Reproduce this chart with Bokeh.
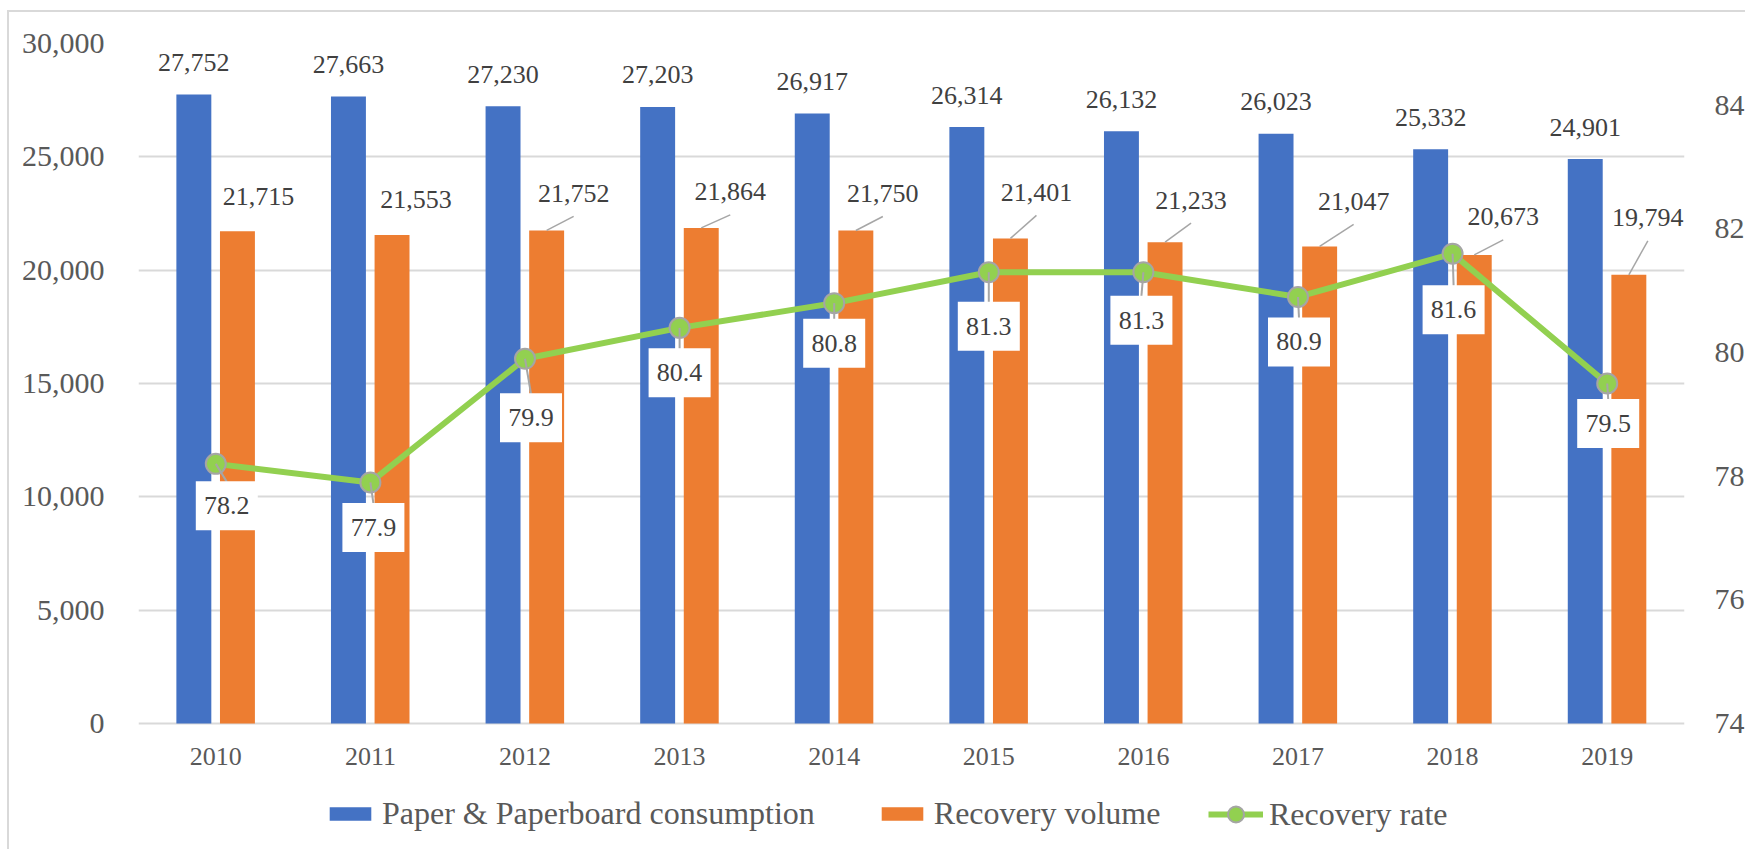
from math import atan2, hypot

from bokeh.plotting import figure
from bokeh.models import (ColumnDataSource, FactorRange, Range1d, LinearAxis, FixedTicker,
                          NumeralTickFormatter, Legend, LegendItem)
from bokeh.transform import dodge
from bokeh.core.properties import value
from bokeh.embed import file_html
from bokeh.resources import INLINE

# ---- data ----
years = ["2010", "2011", "2012", "2013", "2014", "2015", "2016", "2017", "2018", "2019"]
paper = [27752, 27663, 27230, 27203, 26917, 26314, 26132, 26023, 25332, 24901]
recovery = [21715, 21553, 21752, 21864, 21750, 21401, 21233, 21047, 20673, 19794]
rate = [78.2, 77.9, 79.9, 80.4, 80.8, 81.3, 81.3, 80.9, 81.6, 79.5]
left_ticks = [0, 5000, 10000, 15000, 20000, 25000, 30000]
right_ticks = [74, 76, 78, 80, 82, 84]
left_max, right_min, right_max = 30000, 74, 85

# ---- label placement (screen pixel offsets) ----
rec_dx = [21, 24, 27, 29, 27, 26, 26, 34, 29, 19]
rec_dy = [-35, -35, -37, -36, -37, -46, -42, -45, -38, -57]
rec_leader = [False, False, True, True, True, True, True, True, True, True]
rate_dx = [11, 3, 6, 0, 0, 0, -2, 1, 1, 1]
rate_dy = [42, 45, 59, 45, 40, 54, 48, 45, 56, 40]

# ---- layout (pixels) ----
W, H = 1738, 839          # canvas (page offset 9, 12 for the chart border)
TOP = 31                  # frame top within canvas
PLOT_H = 680              # height of the value area (0 .. 30000)
BELOW = H - TOP - PLOT_H  # space below the zero line, used by year labels + legend
CAT_PX = 154.6            # width of one year slot
RATE_PX = PLOT_H / (right_max - right_min)

FONT = "Liberation Serif"
BLUE = "#4472C4"
ORANGE = "#ED7D31"
GREEN = "#92D050"
GRID = "#D9D9D9"
TXT = "#595959"
LBL = "#404040"
LEAD = "#A6A6A6"

src = ColumnDataSource(dict(
    year=years, paper=paper, rec=recovery, rate=rate,
    zero=[0] * len(years),
    paper_lbl=[f"{v:,}" for v in paper],
    rec_lbl=[f"{v:,}" for v in recovery],
    rate_lbl=[f"{v:.1f}" for v in rate],
    rec_dx=rec_dx, rec_dy=rec_dy,
    rate_dx=rate_dx, rate_dy=rate_dy,
    box_x=[i + 0.5 + rate_dx[i] / CAT_PX for i in range(len(years))],
    box_y=[rate[i] - rate_dy[i] / RATE_PX for i in range(len(years))],
))

lead_rows = [i for i in range(len(years)) if rec_leader[i]]
rec_lead = ColumnDataSource(dict(
    year=[years[i] for i in lead_rows],
    rec=[recovery[i] for i in lead_rows],
    length=[hypot(rec_dx[i], rec_dy[i] + 23) for i in lead_rows],
    angle=[atan2(-(rec_dy[i] + 23), rec_dx[i]) for i in lead_rows],
))
rate_lead = ColumnDataSource(dict(
    year=years, rate=rate,
    length=[hypot(rate_dx[i], rate_dy[i] - 24) for i in range(len(years))],
    angle=[atan2(-(rate_dy[i] - 24), rate_dx[i]) for i in range(len(years))],
))

left_start = -left_max * BELOW / PLOT_H
right_start = right_min - (right_max - right_min) * BELOW / PLOT_H

p = figure(width=W, height=H, x_range=FactorRange(*years, range_padding=0),
           y_range=Range1d(left_start, left_max), x_axis_location=None,
           output_backend="svg", toolbar_location=None,
           min_border_left=129, min_border_right=60, min_border_top=TOP, min_border_bottom=0)
p.margin = (10, 0, 0, 7)
p.styles = {"border-top": "2px solid #D9D9D9", "border-left": "2px solid #D9D9D9"}
p.extra_y_ranges = {"rate": Range1d(right_start, right_max)}
p.outline_line_color = None
p.background_fill_color = "white"
p.border_fill_color = "white"

# axes
p.yaxis.ticker = FixedTicker(ticks=left_ticks)
p.yaxis.formatter = NumeralTickFormatter(format="0,0")
p.yaxis.axis_line_color = None
p.yaxis.major_tick_line_color = None
p.yaxis.minor_tick_line_color = None
p.yaxis.major_label_text_font = FONT
p.yaxis.major_label_text_font_size = "30px"
p.yaxis.major_label_text_color = TXT
p.yaxis.major_label_standoff = 28

raxis = LinearAxis(y_range_name="rate", ticker=FixedTicker(ticks=right_ticks))
raxis.axis_line_color = None
raxis.major_tick_line_color = None
raxis.minor_tick_line_color = None
raxis.major_label_text_font = FONT
raxis.major_label_text_font_size = "30px"
raxis.major_label_text_color = TXT
raxis.major_label_standoff = 24
p.add_layout(raxis, "right")

p.xgrid.grid_line_color = None
p.ygrid.grid_line_color = GRID
p.ygrid.grid_line_width = 2

# bars
b1 = p.vbar(x=dodge("year", -0.142, range=p.x_range), top="paper", width=0.226,
            source=src, fill_color=BLUE, line_color=None)
b2 = p.vbar(x=dodge("year", 0.14, range=p.x_range), top="rec", width=0.226,
            source=src, fill_color=ORANGE, line_color=None)

# category labels under the zero line
p.text(x="year", y="zero", text="year", source=src, y_offset=33,
       text_align="center", text_baseline="middle",
       text_font=value(FONT), text_font_size="26px", text_color=TXT)

# bar labels
p.text(x=dodge("year", -0.142, range=p.x_range), y="paper", text="paper_lbl", source=src,
       y_offset=-32, text_align="center", text_baseline="middle",
       text_font=value(FONT), text_font_size="26px", text_color=LBL)
p.ray(x=dodge("year", 0.14, range=p.x_range), y="rec", length="length", angle="angle",
      length_units="screen", source=rec_lead, line_color=LEAD, line_width=1.5)
p.text(x=dodge("year", 0.14, range=p.x_range), y="rec", text="rec_lbl", source=src,
       x_offset="rec_dx", y_offset="rec_dy", text_align="center", text_baseline="middle",
       text_font=value(FONT), text_font_size="26px", text_color=LBL)

# rate line
ln = p.line(x="year", y="rate", source=src, y_range_name="rate", line_color=GREEN, line_width=6)
mk = p.scatter(x="year", y="rate", source=src, y_range_name="rate", size=20,
               fill_color=GREEN, line_color="#A5A5A5", line_width=2)
p.ray(x="year", y="rate", length="length", angle="angle", length_units="screen",
      source=rate_lead, y_range_name="rate", line_color=LEAD, line_width=2)
# white boxes behind the rate labels
p.rect(x="box_x", y="box_y", width=62, height=49, width_units="screen", height_units="screen",
       source=src, y_range_name="rate", fill_color="white", line_color=None)
p.text(x="year", y="rate", text="rate_lbl", source=src, y_range_name="rate",
       x_offset="rate_dx", y_offset="rate_dy", text_align="center", text_baseline="middle",
       text_font=value(FONT), text_font_size="26px", text_color=LBL)

# legends at the bottom of the chart
common = dict(orientation="horizontal", label_text_font=FONT, label_text_font_size="32px",
              label_text_color=TXT, label_standoff=6, padding=0, margin=0,
              border_line_color=None, background_fill_alpha=0)
bar_legend = Legend(items=[LegendItem(label="Paper & Paperboard consumption", renderers=[b1]),
                           LegendItem(label="Recovery volume", renderers=[b2])],
                    location=(186, 19), glyph_width=52, glyph_height=17, spacing=61, **common)
rate_legend = Legend(items=[LegendItem(label="Recovery rate", renderers=[ln, mk])],
                     location=(1070, 17), glyph_width=55, glyph_height=40, **common)
p.add_layout(bar_legend)
p.add_layout(rate_legend)

open("out.html", "w").write(file_html(p, INLINE))
